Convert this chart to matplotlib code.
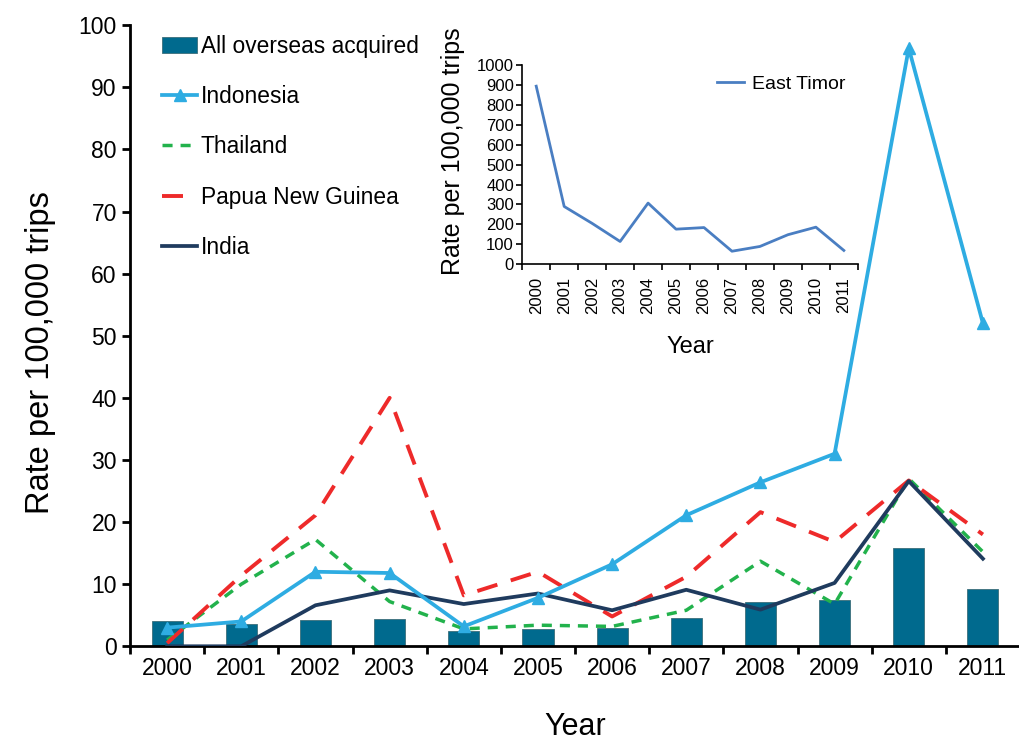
import numpy as np
from matplotlib import pyplot as plt

plt.rcParams['font.family'] = ['Liberation Sans', 'DejaVu Sans']

years = ['2000', '2001', '2002', '2003', '2004', '2005',
         '2006', '2007', '2008', '2009', '2010', '2011']

all_overseas = [4.0, 3.6, 4.3, 4.4, 2.5, 2.8, 2.9, 4.6, 7.2, 7.5, 15.9, 9.3]
indonesia = [3.0, 4.0, 12.0, 11.8, 3.2, 7.8, 13.2, 21.1, 26.4, 31.0, 96.3, 52.0]
thailand = [1.0, 10.0, 17.2, 7.2, 2.8, 3.4, 3.2, 5.8, 13.7, 6.8, 27.0, 15.2]
png = [0.5, 11.4, 21.1, 40.0, 8.2, 12.0, 4.8, 11.2, 21.6, 16.8, 26.7, 18.0]
india = [0.0, 0.0, 6.6, 9.0, 6.8, 8.5, 5.8, 9.1, 5.9, 10.2, 26.6, 14.1]

east_timor = [895, 290, 205, 114, 307, 176, 184, 65, 89, 148, 186, 69]

x = np.arange(len(years))

fig = plt.figure(figsize=(10.2, 7.42), dpi=100)
ax = fig.add_axes([0.1275, 0.129, 0.8725, 0.837])

bars = ax.bar(x, all_overseas, width=0.42, color='#006A8E', edgecolor='#3C6E7A',
              linewidth=0.6, label='All overseas acquired', zorder=2)
l1, = ax.plot(x, indonesia, color='#2EACE2', lw=2.7, marker='^', markersize=9,
              label='Indonesia', zorder=4)
l2, = ax.plot(x, thailand, color='#22B24C', lw=2.5, ls=(0, (2.9, 2.3)),
              label='Thailand', zorder=3)
l3, = ax.plot(x, png, color='#EE2A2A', lw=2.8, ls=(0, (5.4, 3.6)),
              label='Papua New Guinea', zorder=3)
l4, = ax.plot(x, india, color='#1F3B5E', lw=2.7, label='India', zorder=3)

ax.set_xlim(-0.5, 11.5)
ax.set_ylim(0, 100)
ax.set_yticks(range(0, 101, 10))
ax.set_xticks(np.arange(-0.5, 12, 1))
ax.set_xticklabels([])
ax.set_xticks(x, minor=True)
ax.set_xticklabels(years, minor=True)
ax.tick_params(axis='x', which='minor', length=0, pad=8, labelsize=16.5)
ax.tick_params(axis='x', which='major', length=6, width=2, direction='out')
ax.tick_params(axis='y', length=6, width=2, direction='out', labelsize=16.5)
for s in ['top', 'right']:
    ax.spines[s].set_visible(False)
for s in ['left', 'bottom']:
    ax.spines[s].set_linewidth(2)

ax.set_ylabel('Rate per 100,000 trips', fontsize=23.5)
ax.yaxis.set_label_coords(-0.083, 0.473)
ax.set_xlabel('Year', fontsize=22, labelpad=23)

ax.legend([bars, l1, l2, l3, l4],
          ['All overseas acquired', 'Indonesia', 'Thailand',
           'Papua New Guinea', 'India'],
          loc='upper left', bbox_to_anchor=(0.036, 0.985), frameon=False,
          fontsize=16.4, labelspacing=1.2, handlelength=1.55,
          handletextpad=0.15, borderpad=0, borderaxespad=0)

# inset: East Timor
ins = fig.add_axes([0.512, 0.644, 0.329, 0.268])
ins.plot(x, east_timor, color='#4A7EC2', lw=2, label='East Timor')
ins.set_xlim(-0.5, 11.5)
ins.set_ylim(0, 1000)
ins.set_yticks(range(0, 1001, 100))
ins.tick_params(axis='y', labelsize=12, length=4, width=1.2, pad=2)
ins.set_xticks(np.arange(-0.5, 12, 1))
ins.set_xticklabels([])
ins.set_xticks(x, minor=True)
ins.set_xticklabels(years, minor=True, rotation=90)
ins.tick_params(axis='x', which='minor', length=0, labelsize=12, pad=9)
ins.tick_params(axis='x', which='major', length=4, width=1.2)
for s in ['top', 'right']:
    ins.spines[s].set_visible(False)
for s in ['left', 'bottom']:
    ins.spines[s].set_linewidth(1.2)
ins.set_ylabel('Rate per 100,000 trips', fontsize=18)
ins.yaxis.set_label_coords(-0.17, 0.566)
ins.set_xlabel('Year', fontsize=17)
ins.xaxis.set_label_coords(0.5, -0.36)
ins.legend(loc='center left', bbox_to_anchor=(0.58, 0.905), frameon=False,
           fontsize=14, handlelength=1.4, handletextpad=0.4,
           borderpad=0, borderaxespad=0)

fig.savefig('out.png', dpi=100)
